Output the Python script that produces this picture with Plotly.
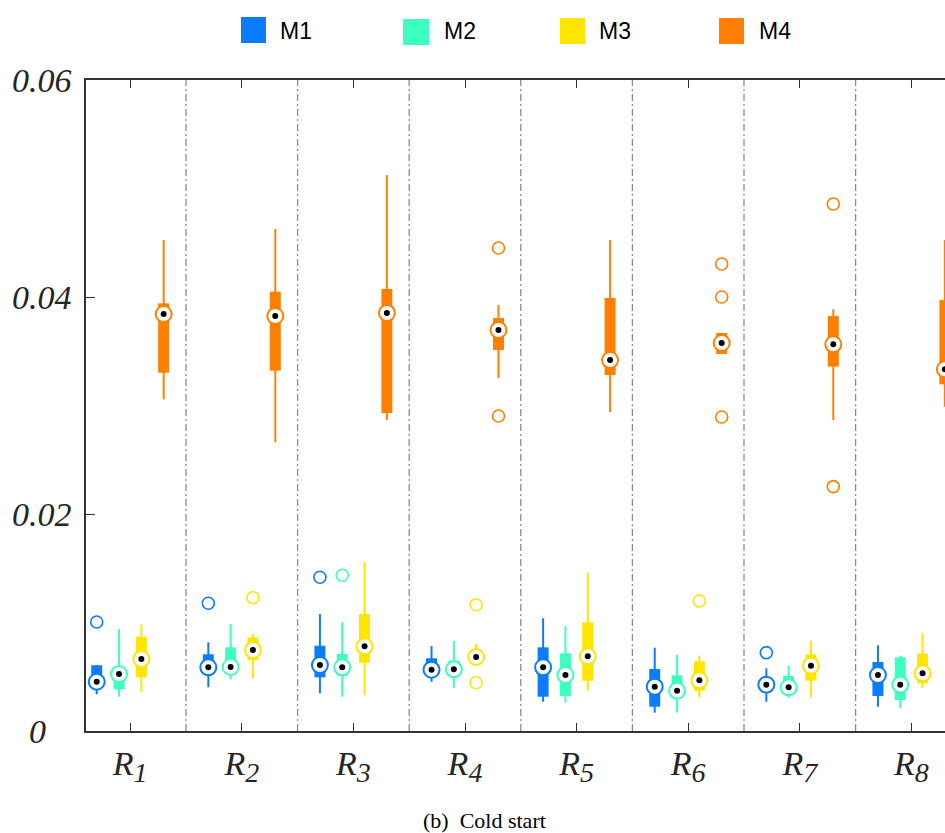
import plotly.graph_objects as go

regions = ["R1", "R2", "R3", "R4", "R5", "R6", "R7", "R8"]
region_ticktext = ["<i>R</i><sub><span style='font-size:28px'>%d</span></sub>" % i for i in range(1, 9)]
methods = ["M1", "M2", "M3", "M4"]
colors = {"M1": "#0A7CFF", "M2": "#3DFFBF", "M3": "#FFE500", "M4": "#FF8000"}

# box statistics per method: lower whisker, q1, median, q3, upper whisker
m1_lw = [0.00338, 0.00403, 0.00347, 0.00454, 0.00270, 0.00169, 0.00270, 0.00224]
m1_q1 = [0.00420, 0.00550, 0.00495, 0.00520, 0.00316, 0.00224, 0.00390, 0.00323]
m1_med = [0.00454, 0.00587, 0.00608, 0.00565, 0.00587, 0.00408, 0.00427, 0.00516]
m1_q3 = [0.00606, 0.00707, 0.00786, 0.00670, 0.00771, 0.00571, 0.00480, 0.00636]
m1_uw = [0.00606, 0.00817, 0.01078, 0.00783, 0.01039, 0.00768, 0.00578, 0.00790]
m1_out = [[0.01005], [0.01177], [0.01417], [], [], [], [0.00722], []]

m2_lw = [0.00316, 0.00476, 0.00316, 0.00399, 0.00261, 0.00169, 0.00307, 0.00209]
m2_q1 = [0.00384, 0.00540, 0.00510, 0.00520, 0.00323, 0.00310, 0.00360, 0.00286]
m2_med = [0.00525, 0.00590, 0.00587, 0.00568, 0.00516, 0.00371, 0.00403, 0.00427]
m2_q3 = [0.00590, 0.00771, 0.00710, 0.00648, 0.00716, 0.00513, 0.00507, 0.00679]
m2_uw = [0.00940, 0.00986, 0.01002, 0.00830, 0.00968, 0.00700, 0.00602, 0.00694]
m2_out = [[], [], [0.01435], [], [], [], [], []]

m3_lw = [0.00362, 0.00486, 0.00332, 0.00620, 0.00371, 0.00307, 0.00310, 0.00399]
m3_q1 = [0.00495, 0.00654, 0.00630, 0.00640, 0.00464, 0.00371, 0.00464, 0.00440]
m3_med = [0.00664, 0.00747, 0.00780, 0.00682, 0.00688, 0.00467, 0.00602, 0.00532]
m3_q3 = [0.00869, 0.00863, 0.01078, 0.00720, 0.01002, 0.00642, 0.00707, 0.00713]
m3_uw = [0.00983, 0.00894, 0.01555, 0.00802, 0.01463, 0.00694, 0.00832, 0.00900]
m3_out = [[], [0.01229], [], [0.01164, 0.00445], [], [0.01198], [], []]

m4_lw = [0.03057, 0.02661, 0.02866, 0.03253, 0.02940, 0.03475, 0.02866, 0.02989]
m4_q1 = [0.03302, 0.03321, 0.02931, 0.03512, 0.03281, 0.03475, 0.03358, 0.03195]
m4_med = [0.03843, 0.03825, 0.03853, 0.03696, 0.03419, 0.03576, 0.03564, 0.03334]
m4_q3 = [0.03942, 0.04049, 0.04074, 0.03806, 0.03991, 0.03668, 0.03825, 0.03972]
m4_uw = [0.04525, 0.04627, 0.05124, 0.03926, 0.04525, 0.03668, 0.03886, 0.04525]
m4_out = [[], [], [], [0.04452, 0.02903], [], [0.04304, 0.04000, 0.02894], [0.04857, 0.02252], []]

stats = {
    "M1": (m1_lw, m1_q1, m1_med, m1_q3, m1_uw, m1_out),
    "M2": (m2_lw, m2_q1, m2_med, m2_q3, m2_uw, m2_out),
    "M3": (m3_lw, m3_q1, m3_med, m3_q3, m3_uw, m3_out),
    "M4": (m4_lw, m4_q1, m4_med, m4_q3, m4_uw, m4_out),
}
offsets = {"M1": -0.3, "M2": -0.1, "M3": 0.1, "M4": 0.3}

yticks = [0, 0.02, 0.04, 0.06]
ytick_labels = ["0", "0.02", "0.04", "0.06"]

fig = go.Figure()

for m in methods:
    lw, q1, med, q3, uw, out = stats[m]
    c = colors[m]
    xs = [i + 1 + offsets[m] for i in range(len(regions))]
    wx, wy, bx, by = [], [], [], []
    for x, a, b, d, e in zip(xs, lw, q1, q3, uw):
        wx += [x, x, None]
        wy += [a, e, None]
        bx += [x, x, None]
        by += [b, d, None]
    fig.add_trace(go.Scatter(x=wx, y=wy, mode="lines", line=dict(color=c, width=2),
                             showlegend=False, hoverinfo="skip"))
    fig.add_trace(go.Scatter(x=bx, y=by, mode="lines", line=dict(color=c, width=11),
                             showlegend=False, hoverinfo="skip"))
    ox, oy = [], []
    for x, vals in zip(xs, out):
        for v in vals:
            ox.append(x)
            oy.append(v)
    fig.add_trace(go.Scatter(x=ox, y=oy, mode="markers",
                             marker=dict(symbol="circle-open", size=12, color=c, line=dict(width=1.6)),
                             showlegend=False, hoverinfo="skip"))
    fig.add_trace(go.Scatter(x=xs, y=med, mode="markers",
                             marker=dict(symbol="circle", size=16, color="white", line=dict(color=c, width=2)),
                             showlegend=False, hoverinfo="skip"))
    fig.add_trace(go.Scatter(x=xs, y=med, mode="markers",
                             marker=dict(symbol="circle", size=6, color="black"),
                             showlegend=False, hoverinfo="skip"))

# layout geometry (pixels); page body margin is removed in post_script
W, H = 945, 833
L, T, R = 86, 80, 0
B = H - 731
pw, ph = W - L - R, H - T - B


def px(x):
    return (x - L) / pw


def py(y):
    return (H - B - y) / ph


shapes = []
# group separators
for k in range(1, len(regions)):
    shapes.append(dict(type="line", xref="x", yref="paper", x0=k + 0.5, x1=k + 0.5, y0=0, y1=1,
                       line=dict(color="#8c8c8c", width=1.3, dash="7px,3px,2px,3px"), layer="below"))

# legend
legend_boxes = {"M1": (241, 266, 17, 43), "M2": (403, 429, 19, 45), "M3": (560, 585, 18, 44), "M4": (719, 744, 18, 44)}
legend_text_x = {"M1": 278, "M2": 442, "M3": 597, "M4": 757}
annotations = []
for m in methods:
    x0, x1, y0, y1 = legend_boxes[m]
    shapes.append(dict(type="rect", xref="paper", yref="paper", x0=px(x0), x1=px(x1), y0=py(y1), y1=py(y0),
                       fillcolor=colors[m], line=dict(width=0)))
    annotations.append(dict(xref="paper", yref="paper", x=px(legend_text_x[m]), y=py(31), xanchor="left",
                            yanchor="middle", text=m, showarrow=False,
                            font=dict(family="Liberation Sans", size=23, color="black")))

# y tick labels
for v, t in zip(yticks, ytick_labels):
    cx = 37 if t == "0" else 42
    annotations.append(dict(xref="paper", yref="y", x=px(cx), y=v, xanchor="center", yanchor="middle",
                            text="<i>%s</i>" % t, showarrow=False,
                            font=dict(family="Liberation Serif", size=34, color="#262626")))

# caption
annotations.append(dict(xref="paper", yref="paper", x=px(484), y=py(820), xanchor="center", yanchor="middle",
                        text="(b)  Cold start", showarrow=False,
                        font=dict(family="Liberation Serif", size=22, color="black")))

fig.update_layout(
    width=W, height=H, autosize=False,
    margin=dict(l=L, r=R, t=T, b=B, pad=0),
    paper_bgcolor="white", plot_bgcolor="white",
    shapes=shapes, annotations=annotations, showlegend=False,
    xaxis=dict(range=[0.604, 8.301], tickvals=list(range(1, len(regions) + 1)), ticktext=region_ticktext,
               ticks="inside", ticklen=8, tickwidth=1.3, tickcolor="#333333",
               showline=True, linecolor="#333333", linewidth=1.5, mirror="ticks",
               showgrid=False, zeroline=False, ticklabelstandoff=1,
               tickfont=dict(family="Liberation Serif", size=34, color="#262626", style="italic")),
    yaxis=dict(range=[0, 0.06], tickvals=yticks, showticklabels=False,
               ticks="inside", ticklen=9, tickwidth=1.3, tickcolor="#333333",
               showline=True, linecolor="#333333", linewidth=1.5, mirror=False,
               showgrid=False, zeroline=False),
)

fig.write_html("out.html", config={"displayModeBar": False},
               post_script="document.body.style.margin='0px';document.body.style.overflow='hidden';")
